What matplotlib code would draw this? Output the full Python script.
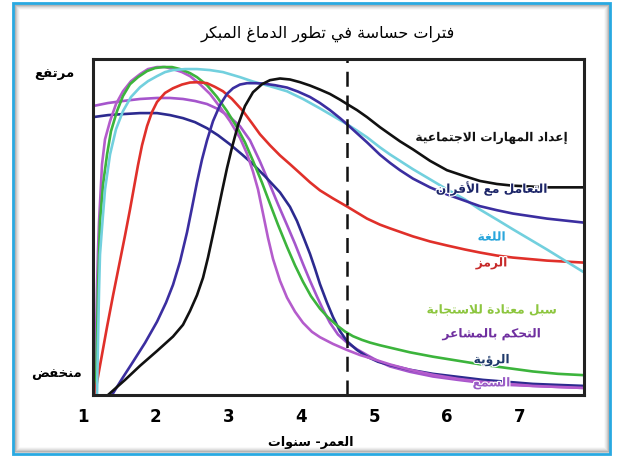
import matplotlib
matplotlib.use("Agg")
import matplotlib.pyplot as plt
import matplotlib.patheffects as pe
from matplotlib.patches import Rectangle

# ---- data (age in years, level 0 = low, 1 = high) ----
social_age = [1.343, 1.577, 1.783, 2.016, 2.236, 2.373, 2.469, 2.565, 2.648, 2.716,
              2.785, 2.840, 2.909, 2.977, 3.046, 3.128, 3.224, 3.334, 3.458, 3.568,
              3.705, 3.842, 3.980, 4.117, 4.254, 4.391, 4.529, 4.625, 4.762, 4.900,
              5.078, 5.215, 5.353, 5.531, 5.765, 5.998, 6.245, 6.451, 6.684, 6.904,
              7.371, 7.88]
social_lvl = [0.000, 0.045, 0.087, 0.131, 0.174, 0.209, 0.250, 0.297, 0.349, 0.409,
              0.478, 0.534, 0.606, 0.675, 0.737, 0.803, 0.860, 0.901, 0.925, 0.937,
              0.942, 0.939, 0.931, 0.921, 0.909, 0.896, 0.879, 0.866, 0.848, 0.827,
              0.797, 0.776, 0.755, 0.731, 0.697, 0.669, 0.651, 0.637, 0.628, 0.623,
              0.618, 0.618]

peer_age = [1.398, 1.535, 1.687, 1.851, 2.016, 2.140, 2.236, 2.332, 2.428, 2.497,
            2.565, 2.634, 2.703, 2.785, 2.881, 2.977, 3.060, 3.156, 3.252, 3.362,
            3.472, 3.636, 3.801, 3.952, 4.117, 4.254, 4.391, 4.529, 4.625, 4.762,
            4.900, 5.078, 5.215, 5.353, 5.531, 5.765, 5.998, 6.245, 6.451, 6.684,
            6.904, 7.371, 7.88]
peer_lvl = [0.000, 0.048, 0.099, 0.155, 0.218, 0.275, 0.328, 0.397, 0.484, 0.558,
            0.633, 0.701, 0.758, 0.815, 0.863, 0.896, 0.913, 0.924, 0.928, 0.928,
            0.927, 0.922, 0.915, 0.903, 0.887, 0.869, 0.848, 0.824, 0.806, 0.779,
            0.752, 0.715, 0.691, 0.669, 0.644, 0.618, 0.597, 0.578, 0.562, 0.550,
            0.540, 0.525, 0.513]

lang_age = [1.192, 1.206, 1.220, 1.233, 1.261, 1.302, 1.371, 1.453, 1.549, 1.659,
            1.783, 1.892, 2.016, 2.126, 2.236, 2.401, 2.565, 2.744, 2.922, 3.156,
            3.334, 3.568, 3.801, 4.021, 4.254, 4.460, 4.625, 4.762, 4.900, 5.078,
            5.215, 5.531, 5.765, 5.998, 6.245, 6.451, 6.684, 6.904, 7.138, 7.371,
            7.618, 7.88]
lang_lvl = [0.000, 0.164, 0.313, 0.418, 0.499, 0.612, 0.716, 0.791, 0.845, 0.887,
            0.916, 0.934, 0.949, 0.961, 0.967, 0.970, 0.970, 0.967, 0.961, 0.946,
            0.933, 0.919, 0.904, 0.881, 0.853, 0.827, 0.806, 0.787, 0.767, 0.737,
            0.716, 0.672, 0.642, 0.612, 0.582, 0.552, 0.522, 0.493, 0.463, 0.433,
            0.400, 0.365]

symbol_age = [1.165, 1.247, 1.330, 1.412, 1.508, 1.577, 1.645, 1.700, 1.755, 1.810,
              1.879, 1.947, 2.016, 2.126, 2.236, 2.359, 2.469, 2.579, 2.703, 2.812,
              2.922, 3.046, 3.197, 3.320, 3.430, 3.568, 3.705, 3.842, 3.980, 4.117,
              4.254, 4.433, 4.625, 4.762, 4.900, 5.078, 5.215, 5.531, 5.765, 5.998,
              6.245, 6.451, 6.684, 6.904, 7.371, 7.88]
symbol_lvl = [0.006, 0.104, 0.203, 0.296, 0.400, 0.475, 0.552, 0.618, 0.684, 0.743,
              0.800, 0.842, 0.872, 0.899, 0.913, 0.924, 0.930, 0.931, 0.928, 0.917,
              0.904, 0.881, 0.845, 0.809, 0.776, 0.743, 0.713, 0.687, 0.660, 0.633,
              0.609, 0.585, 0.561, 0.543, 0.525, 0.507, 0.496, 0.472, 0.457, 0.445,
              0.433, 0.424, 0.415, 0.409, 0.400, 0.394]

habit_age = [1.178, 1.192, 1.206, 1.220, 1.233, 1.275, 1.330, 1.384, 1.467, 1.549,
             1.645, 1.755, 1.879, 1.989, 2.098, 2.222, 2.332, 2.469, 2.565, 2.703,
             2.840, 2.977, 3.114, 3.224, 3.334, 3.458, 3.568, 3.677, 3.801, 3.911,
             4.021, 4.131, 4.254, 4.364, 4.488, 4.597, 4.707, 4.831, 4.941, 5.078,
             5.215, 5.490, 5.806, 6.149, 6.492, 6.836, 7.179, 7.522, 7.88]
habit_lvl = [0.000, 0.164, 0.313, 0.418, 0.516, 0.627, 0.716, 0.785, 0.845, 0.890,
             0.925, 0.946, 0.964, 0.973, 0.976, 0.976, 0.970, 0.958, 0.946, 0.922,
             0.887, 0.845, 0.797, 0.752, 0.697, 0.632, 0.569, 0.507, 0.441, 0.386,
             0.337, 0.294, 0.257, 0.231, 0.207, 0.189, 0.175, 0.164, 0.156, 0.148,
             0.141, 0.127, 0.114, 0.102, 0.090, 0.080, 0.070, 0.063, 0.059]

emotion_age = [1.165, 1.178, 1.192, 1.206, 1.220, 1.261, 1.302, 1.371, 1.453, 1.549,
               1.659, 1.783, 1.892, 2.016, 2.126, 2.236, 2.359, 2.469, 2.606, 2.744,
               2.881, 3.018, 3.156, 3.252, 3.334, 3.403, 3.472, 3.540, 3.609, 3.705,
               3.801, 3.911, 4.021, 4.144, 4.254, 4.433, 4.625, 4.803, 4.941, 5.215,
               5.490, 5.806, 6.149, 6.492, 6.836, 7.179, 7.522, 7.88]
emotion_lvl = [0.000, 0.164, 0.319, 0.433, 0.516, 0.687, 0.761, 0.815, 0.866, 0.904,
               0.934, 0.955, 0.970, 0.976, 0.976, 0.970, 0.961, 0.949, 0.925, 0.896,
               0.857, 0.815, 0.765, 0.718, 0.665, 0.612, 0.540, 0.468, 0.405, 0.340,
               0.290, 0.248, 0.215, 0.188, 0.172, 0.152, 0.134, 0.119, 0.110, 0.091,
               0.075, 0.060, 0.048, 0.039, 0.033, 0.027, 0.024, 0.021]

vision_age = [1.137, 1.343, 1.549, 1.783, 2.016, 2.195, 2.373, 2.538, 2.703, 2.854,
              3.018, 3.183, 3.334, 3.499, 3.705, 3.842, 3.938, 4.034, 4.117, 4.186,
              4.254, 4.350, 4.433, 4.529, 4.625, 4.762, 4.900, 5.051, 5.215, 5.490,
              5.806, 6.149, 6.492, 6.836, 7.179, 7.522, 7.88]
vision_lvl = [0.827, 0.833, 0.836, 0.839, 0.839, 0.833, 0.824, 0.812, 0.794, 0.773,
              0.746, 0.716, 0.687, 0.651, 0.603, 0.560, 0.518, 0.466, 0.420, 0.376,
              0.330, 0.275, 0.232, 0.190, 0.160, 0.134, 0.114, 0.099, 0.089, 0.075,
              0.063, 0.054, 0.045, 0.039, 0.033, 0.030, 0.027]

hearing_age = [1.137, 1.343, 1.549, 1.783, 2.016, 2.195, 2.373, 2.538, 2.703, 2.854,
               3.018, 3.156, 3.293, 3.430, 3.568, 3.677, 3.801, 3.911, 4.021, 4.117,
               4.213, 4.295, 4.391, 4.501, 4.625, 4.762, 4.900, 5.051, 5.215, 5.490,
               5.806, 6.149, 6.492, 6.836, 7.179, 7.522, 7.88]
hearing_lvl = [0.860, 0.869, 0.875, 0.881, 0.884, 0.884, 0.881, 0.875, 0.866, 0.851,
               0.827, 0.800, 0.758, 0.695, 0.625, 0.568, 0.506, 0.450, 0.390, 0.340,
               0.293, 0.255, 0.215, 0.180, 0.156, 0.136, 0.119, 0.101, 0.085, 0.069,
               0.055, 0.045, 0.036, 0.030, 0.027, 0.024, 0.021]

age_ticks = [1, 2, 3, 4, 5, 6, 7]
cutoff_age = 4.62

title = "فترات حساسة في تطور الدماغ المبكر"
xlabel = "العمر- سنوات"
high_label = "مرتفع"
low_label = "منخفض"


# matplotlib has no arabic shaping, so pick presentation forms by hand
letters = "ءآأؤإئابةتثجحخدذرزسشصضطظعغفقكلمنهوىي"
n_forms = [1, 2, 2, 2, 2, 4, 2, 4, 2, 4, 4, 4, 4, 4, 2, 2, 2, 2, 4, 4, 4, 4, 4, 4,
           4, 4, 4, 4, 4, 4, 4, 4, 4, 2, 2, 4]
forms = {}
code = 0xFE80
for ch, n in zip(letters, n_forms):
    forms[ch] = [chr(code + k) for k in range(n)]
    code += n
lam_alef = {"آ": 0xFEF5, "أ": 0xFEF7, "إ": 0xFEF9, "ا": 0xFEFB}


def ar(text):
    units = []
    i = 0
    while i < len(text):
        c = text[i]
        if c == "ل" and i + 1 < len(text) and text[i + 1] in lam_alef:
            base = lam_alef[text[i + 1]]
            units.append([chr(base), chr(base + 1)])
            i += 2
            continue
        units.append(forms.get(c, c))
        i += 1
    out = []
    for i, u in enumerate(units):
        if isinstance(u, str):
            out.append(u)
            continue
        prev = units[i - 1] if i > 0 else None
        nxt = units[i + 1] if i + 1 < len(units) else None
        jp = isinstance(prev, list) and len(prev) == 4 and len(u) > 1
        jn = len(u) == 4 and isinstance(nxt, list) and len(nxt) > 1
        if jp and jn:
            out.append(u[3])
        elif jp:
            out.append(u[1])
        elif jn:
            out.append(u[2])
        else:
            out.append(u[0])
    return "".join(reversed(out))


plt.rcParams["font.family"] = ["DejaVu Sans"]

fig = plt.figure(figsize=(6.21, 4.57), dpi=100)
ax = fig.add_axes([93 / 621, 1 - 395 / 457, (584 - 93) / 621, (395 - 59) / 457])

lw = 1.9
style = dict(lw=lw, solid_capstyle="round", solid_joinstyle="round")
ax.plot(hearing_age, hearing_lvl, color="#a555cc", **style)
ax.plot(vision_age, vision_lvl, color="#2c2a8f", **style)
ax.plot(emotion_age, emotion_lvl, color="#b45ccc", **style)
ax.plot(habit_age, habit_lvl, color="#3cb43c", **style)
ax.plot(symbol_age, symbol_lvl, color="#e0302a", **style)
ax.plot(lang_age, lang_lvl, color="#72d0de", **style)
ax.plot(peer_age, peer_lvl, color="#3b2ea0", **style)
ax.plot(social_age, social_lvl, color="#111111", **style)

ax.axvline(cutoff_age, color="#111111", lw=1.8, dashes=(6, 3.5))

ax.set_xlim(1.137, 7.88)
ax.set_ylim(0, 1)
ax.set_xticks([])
ax.set_yticks([])
for s in ax.spines.values():
    s.set_linewidth(2.2)
    s.set_color("#222222")

# curve labels (a light halo keeps them readable where they sit on a line)
lab_x = 6.61
labels = [
    ("إعداد المهارات الاجتماعية", 0.766, "#111111"),
    ("التعامل مع الأقران", 0.615, "#1c2568"),
    ("اللغة", 0.470, "#2aa6dc"),
    ("الرمز", 0.393, "#c72a2a"),
    ("سبل معتادة للاستجابة", 0.253, "#8dc63f"),
    ("التحكم بالمشاعر", 0.182, "#7030a0"),
    ("الرؤية", 0.104, "#1f3a6b"),
    ("السمع", 0.036, "#9a5cc6"),
]
halo = [pe.withStroke(linewidth=1.6, foreground="white")]
for txt, y, col in labels:
    ax.text(lab_x, y, ar(txt), color=col, fontsize=8.8, fontweight="bold",
            ha="center", va="center", path_effects=halo, zorder=5)

for a in age_ticks:
    ax.text(a, -0.065, str(a), fontsize=12, fontweight="bold", ha="center", va="center",
            clip_on=False)

fig.text(328 / 621, 0.926, ar(title), fontsize=11.5, ha="center", va="center")
fig.text(311 / 621, 0.032, ar(xlabel), fontsize=9.2, fontweight="bold", ha="center", va="center")
fig.text(54 / 621, 1 - 74 / 457, ar(high_label), fontsize=9.5, fontweight="bold",
         ha="center", va="center")
fig.text(57 / 621, 1 - 374 / 457, ar(low_label), fontsize=9.5, fontweight="bold",
         ha="center", va="center")

# blue frame with a soft grey shadow inside
for k, a in enumerate([0.45, 0.3, 0.18, 0.1, 0.05]):
    fig.patches.append(Rectangle(((15 + k) / 621, (5 + k) / 457), (594 - 2 * k) / 621,
                                 (447 - 2 * k) / 457, transform=fig.transFigure,
                                 fill=False, edgecolor="#777777", alpha=a, lw=1.2))
fig.patches.append(Rectangle((13 / 621, 3 / 457), 597 / 621, 451 / 457,
                             transform=fig.transFigure, fill=False,
                             edgecolor="#29a9e1", lw=2))

fig.savefig("out.png", dpi=100)
